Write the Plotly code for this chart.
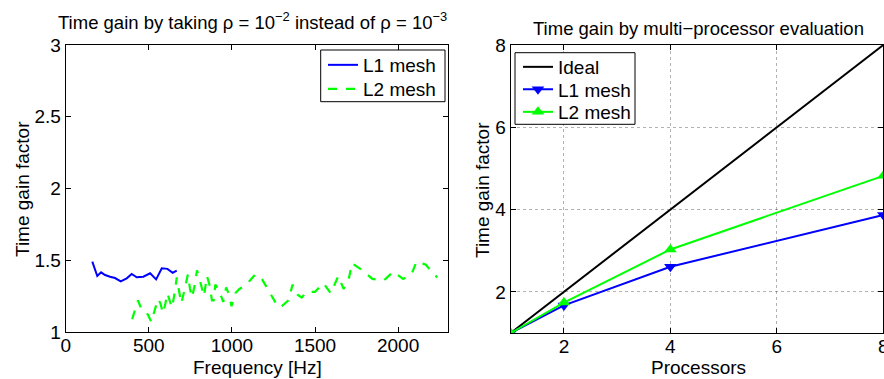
import plotly.graph_objects as go

# ---- Left panel data: time gain vs frequency ----
l1_freq = [160, 190, 213, 237, 267, 297, 331, 367, 397, 427, 467, 508, 544, 578, 612, 644, 668]
l1_gain = [1.49, 1.39, 1.416, 1.397, 1.385, 1.376, 1.353, 1.374, 1.404, 1.381, 1.385, 1.409, 1.367, 1.444, 1.44, 1.413, 1.427]

l2_freq = [400, 420, 435, 455, 475, 495, 515, 535, 555, 570, 585, 600, 612, 625, 640, 655, 668,
           680, 695, 710, 722, 735, 748, 760, 775, 790, 805, 818, 832, 850, 865, 880, 890, 900,
           918, 935, 948, 965, 980, 998, 1020, 1045, 1075, 1110, 1140, 1175, 1220, 1260, 1290,
           1340, 1365, 1395, 1420, 1450, 1500, 1550, 1595, 1640, 1672, 1705, 1722, 1785, 1845,
           1915, 1970, 2030, 2080, 2110, 2165, 2235]
l2_gain = [1.09, 1.17, 1.22, 1.16, 1.15, 1.12, 1.07, 1.15, 1.23, 1.20, 1.13, 1.20, 1.27, 1.22, 1.17, 1.27, 1.38,
           1.30, 1.20, 1.27, 1.33, 1.40, 1.30, 1.24, 1.32, 1.43, 1.37, 1.31, 1.25, 1.39, 1.33, 1.22, 1.22, 1.33,
           1.30, 1.25, 1.21, 1.31, 1.27, 1.18, 1.27, 1.30, 1.32, 1.36, 1.40, 1.38, 1.29, 1.21, 1.17,
           1.22, 1.33, 1.26, 1.24, 1.28, 1.28, 1.34, 1.27, 1.39, 1.30, 1.38, 1.48, 1.43, 1.37,
           1.36, 1.42, 1.37, 1.40, 1.49, 1.47, 1.38]

# ---- Right panel data: multi-processor ----
processors = [1, 2, 4, 8]
ideal = [1, 2, 4, 8]
l1_speedup = [1.0, 1.67, 2.61, 3.87]
l2_speedup = [1.0, 1.74, 3.03, 4.82]

left_x_ticks = [0, 500, 1000, 1500, 2000]
left_y_ticks = [1, 1.5, 2, 2.5, 3]
right_x_ticks = [2, 4, 6, 8]
right_y_ticks = [2, 4, 6, 8]

FONT = "Liberation Sans, Arial, Helvetica, sans-serif"
FS = 19
W, H = 884, 379

fig = go.Figure()

fig.add_trace(go.Scatter(x=l1_freq, y=l1_gain, mode="lines", name="L1 mesh",
                         line=dict(color="#0000FF", width=2), xaxis="x", yaxis="y",
                         legend="legend"))
fig.add_trace(go.Scatter(x=l2_freq, y=l2_gain, mode="lines", name="L2 mesh",
                         line=dict(color="#00FF00", width=2.2, dash="dash"), xaxis="x", yaxis="y",
                         legend="legend3"))

fig.add_trace(go.Scatter(x=processors, y=ideal, mode="lines", name="Ideal",
                         line=dict(color="black", width=2), xaxis="x2", yaxis="y2",
                         legend="legend2"))
fig.add_trace(go.Scatter(x=processors, y=l1_speedup, mode="lines+markers", name="L1 mesh",
                         line=dict(color="#0000FF", width=2),
                         marker=dict(symbol="triangle-down", size=11, color="#0000FF"),
                         xaxis="x2", yaxis="y2", legend="legend4"))
fig.add_trace(go.Scatter(x=processors, y=l2_speedup, mode="lines+markers", name="L2 mesh",
                         line=dict(color="#00FF00", width=2),
                         marker=dict(symbol="triangle-up", size=11, color="#00FF00"),
                         xaxis="x2", yaxis="y2", legend="legend5"))

axis_common = dict(showline=True, linecolor="black", linewidth=1, mirror="ticks",
                   ticks="inside", ticklen=5, tickcolor="black", zeroline=False,
                   automargin=False, ticklabeloverflow="allow",
                   tickfont=dict(family=FONT, size=FS, color="black"))

def px_x(p):
    return p / W

def px_y(p):
    return (H - p) / H

txt = dict(family=FONT, size=FS, color="black")
ttl = dict(family=FONT, size=18.5, color="black")

def one_legend(left_px, center_y_px):
    return dict(x=px_x(left_px), y=px_y(center_y_px), xanchor="left", yanchor="middle",
                borderwidth=0, bgcolor="rgba(0,0,0,0)", font=txt, tracegroupgap=0)

fig.update_layout(
    width=W, height=H,
    margin=dict(l=0, r=0, t=0, b=0, autoexpand=False),
    paper_bgcolor="white", plot_bgcolor="white",
    font=dict(family=FONT, size=FS, color="black"),
    xaxis=dict(domain=[px_x(65.7), px_x(448)], range=[0, 2300], tickvals=left_x_ticks,
               showgrid=False, anchor="y", ticklabelstandoff=-4, **axis_common),
    yaxis=dict(domain=[px_y(332), px_y(45)], range=[1, 3], tickvals=left_y_ticks,
               showgrid=False, anchor="x", **axis_common),
    xaxis2=dict(domain=[px_x(510.7), px_x(883.3)], range=[1, 8], tickvals=right_x_ticks,
                showgrid=True, gridcolor="rgba(0,0,0,0.3)", griddash="dot", gridwidth=1,
                anchor="y2", ticklabelstandoff=-4, **axis_common),
    yaxis2=dict(domain=[px_y(333), px_y(45)], range=[1, 8], tickvals=right_y_ticks,
                showgrid=True, gridcolor="rgba(0,0,0,0.3)", griddash="dot", gridwidth=1,
                anchor="x2", **axis_common),
    legend=one_legend(323, 65),
    legend3=one_legend(323, 89),
    legend2=one_legend(518, 67),
    legend4=one_legend(518, 89.5),
    legend5=one_legend(518, 112),
    showlegend=True,
    shapes=[
        dict(type="rect", xref="paper", yref="paper",
             x0=px_x(320.7), x1=px_x(445), y0=px_y(101.7), y1=px_y(50),
             line=dict(color="black", width=1), fillcolor="white", layer="above"),
        dict(type="rect", xref="paper", yref="paper",
             x0=px_x(515), x1=px_x(635), y0=px_y(124.3), y1=px_y(52.7),
             line=dict(color="black", width=1), fillcolor="white", layer="above"),
    ],
    annotations=[
        dict(text="Time gain by taking ρ = 10<sup>−2</sup> instead of ρ = 10<sup>−3</sup>",
             x=px_x(252), y=px_y(21), xref="paper", yref="paper", showarrow=False,
             xanchor="center", yanchor="middle", font=ttl),
        dict(text="Time gain by multi−processor evaluation",
             x=px_x(698), y=px_y(28), xref="paper", yref="paper", showarrow=False,
             xanchor="center", yanchor="middle", font=ttl),
        dict(text="Frequency [Hz]", x=px_x(257), y=px_y(367), xref="paper", yref="paper",
             showarrow=False, xanchor="center", yanchor="middle", font=txt),
        dict(text="Processors", x=px_x(698), y=px_y(367), xref="paper", yref="paper",
             showarrow=False, xanchor="center", yanchor="middle", font=txt),
        dict(text="Time gain factor", x=px_x(22), y=px_y(189), xref="paper", yref="paper",
             showarrow=False, xanchor="center", yanchor="middle", textangle=-90, font=txt),
        dict(text="Time gain factor", x=px_x(482), y=px_y(190), xref="paper", yref="paper",
             showarrow=False, xanchor="center", yanchor="middle", textangle=-90, font=txt),
    ],
)

fig.write_html("out.html")
